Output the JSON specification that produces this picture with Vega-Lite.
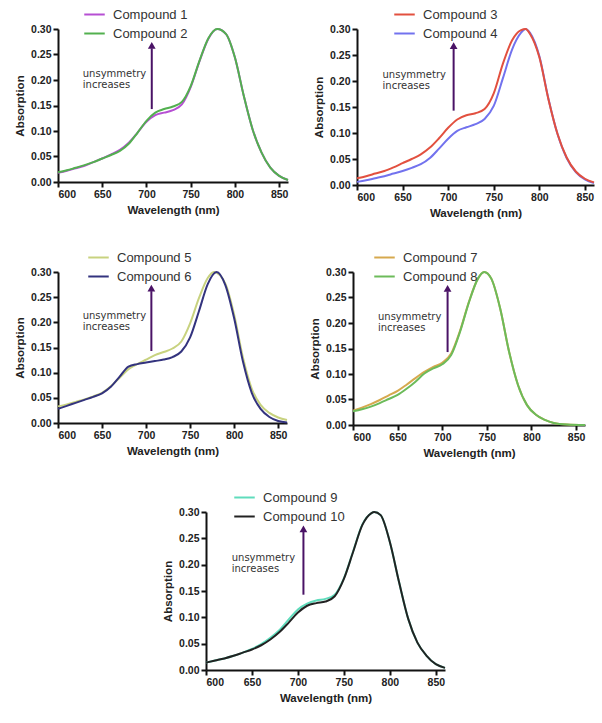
{
  "$schema": "https://vega.github.io/schema/vega-lite/v6.json",
  "background": "white",
  "padding": {"left": 14, "top": 3, "right": 3, "bottom": 3},
  "config": {
    "view": {"stroke": null},
    "font": "Liberation Sans",
    "axis": {"domainColor": "#111", "domainWidth": 2, "tickColor": "#111", "tickWidth": 2, "tickSize": 5, "labelFont": "Liberation Sans", "labelFontWeight": "bold", "labelFontSize": 10.5, "labelColor": "#222", "titleFont": "Liberation Sans", "titleFontWeight": "bold", "titleFontSize": 11.5, "titleColor": "#222", "grid": false, "labelPadding": 2, "labelOverlap": false},
    "axisX": {"titlePadding": 5},
    "axisY": {"titlePadding": 5},
    "legend": {"orient": "none", "symbolType": "stroke", "symbolStrokeWidth": 2, "symbolSize": 420, "labelFont": "Liberation Sans", "labelFontSize": 13, "labelColor": "#333", "rowPadding": -2, "padding": 0, "labelOffset": 7, "title": null},
    "line": {"strokeWidth": 2, "interpolate": "monotone"},
    "text": {"font": "DejaVu Sans", "fontSize": 10, "lineHeight": 11, "color": "#333", "align": "left", "baseline": "middle"}
  },
  "resolve": {"scale": {"color": "independent"}, "legend": {"color": "independent"}},
  "datasets": {
    "arrow": [{"n": 706, "a": 0.143, "a2": 0.262}],
    "head": [{"n": 706, "a": 0.268}],
    "note": [{"n": 628, "a": 0.212, "t": ["unsymmetry", "increases"]}],
    "none": [],
    "p1": [
      {"n":600,"a":0.018,"c":"Compound 1"},{"n":610,"a":0.022,"c":"Compound 1"},{"n":620,"a":0.027,"c":"Compound 1"},{"n":630,"a":0.032,"c":"Compound 1"},{"n":640,"a":0.039,"c":"Compound 1"},{"n":650,"a":0.046,"c":"Compound 1"},{"n":660,"a":0.054,"c":"Compound 1"},{"n":670,"a":0.063,"c":"Compound 1"},{"n":680,"a":0.077,"c":"Compound 1"},{"n":690,"a":0.097,"c":"Compound 1"},{"n":700,"a":0.118,"c":"Compound 1"},{"n":710,"a":0.131,"c":"Compound 1"},{"n":720,"a":0.136,"c":"Compound 1"},{"n":730,"a":0.141,"c":"Compound 1"},{"n":740,"a":0.152,"c":"Compound 1"},{"n":750,"a":0.186,"c":"Compound 1"},{"n":760,"a":0.237,"c":"Compound 1"},{"n":770,"a":0.281,"c":"Compound 1"},{"n":780,"a":0.300,"c":"Compound 1"},{"n":790,"a":0.290,"c":"Compound 1"},{"n":800,"a":0.244,"c":"Compound 1"},{"n":810,"a":0.169,"c":"Compound 1"},{"n":820,"a":0.103,"c":"Compound 1"},{"n":830,"a":0.058,"c":"Compound 1"},{"n":840,"a":0.028,"c":"Compound 1"},{"n":850,"a":0.012,"c":"Compound 1"},{"n":860,"a":0.004,"c":"Compound 1"},
      {"n":600,"a":0.019,"c":"Compound 2"},{"n":610,"a":0.023,"c":"Compound 2"},{"n":620,"a":0.028,"c":"Compound 2"},{"n":630,"a":0.033,"c":"Compound 2"},{"n":640,"a":0.039,"c":"Compound 2"},{"n":650,"a":0.046,"c":"Compound 2"},{"n":660,"a":0.053,"c":"Compound 2"},{"n":670,"a":0.061,"c":"Compound 2"},{"n":680,"a":0.075,"c":"Compound 2"},{"n":690,"a":0.097,"c":"Compound 2"},{"n":700,"a":0.120,"c":"Compound 2"},{"n":710,"a":0.136,"c":"Compound 2"},{"n":720,"a":0.143,"c":"Compound 2"},{"n":730,"a":0.148,"c":"Compound 2"},{"n":740,"a":0.157,"c":"Compound 2"},{"n":750,"a":0.188,"c":"Compound 2"},{"n":760,"a":0.238,"c":"Compound 2"},{"n":770,"a":0.282,"c":"Compound 2"},{"n":780,"a":0.300,"c":"Compound 2"},{"n":790,"a":0.290,"c":"Compound 2"},{"n":800,"a":0.244,"c":"Compound 2"},{"n":810,"a":0.169,"c":"Compound 2"},{"n":820,"a":0.103,"c":"Compound 2"},{"n":830,"a":0.058,"c":"Compound 2"},{"n":840,"a":0.028,"c":"Compound 2"},{"n":850,"a":0.012,"c":"Compound 2"},{"n":860,"a":0.004,"c":"Compound 2"}
    ],
    "p2": [
      {"n":600,"a":0.006,"c":"Compound 4"},{"n":610,"a":0.009,"c":"Compound 4"},{"n":620,"a":0.013,"c":"Compound 4"},{"n":630,"a":0.017,"c":"Compound 4"},{"n":640,"a":0.022,"c":"Compound 4"},{"n":650,"a":0.027,"c":"Compound 4"},{"n":660,"a":0.033,"c":"Compound 4"},{"n":670,"a":0.040,"c":"Compound 4"},{"n":680,"a":0.052,"c":"Compound 4"},{"n":690,"a":0.070,"c":"Compound 4"},{"n":700,"a":0.089,"c":"Compound 4"},{"n":710,"a":0.104,"c":"Compound 4"},{"n":720,"a":0.111,"c":"Compound 4"},{"n":730,"a":0.117,"c":"Compound 4"},{"n":740,"a":0.127,"c":"Compound 4"},{"n":750,"a":0.152,"c":"Compound 4"},{"n":760,"a":0.205,"c":"Compound 4"},{"n":770,"a":0.260,"c":"Compound 4"},{"n":780,"a":0.293,"c":"Compound 4"},{"n":785,"a":0.300,"c":"Compound 4"},{"n":790,"a":0.292,"c":"Compound 4"},{"n":800,"a":0.248,"c":"Compound 4"},{"n":810,"a":0.166,"c":"Compound 4"},{"n":820,"a":0.098,"c":"Compound 4"},{"n":830,"a":0.052,"c":"Compound 4"},{"n":840,"a":0.025,"c":"Compound 4"},{"n":850,"a":0.011,"c":"Compound 4"},{"n":860,"a":0.004,"c":"Compound 4"},
      {"n":600,"a":0.013,"c":"Compound 3"},{"n":610,"a":0.017,"c":"Compound 3"},{"n":620,"a":0.022,"c":"Compound 3"},{"n":630,"a":0.027,"c":"Compound 3"},{"n":640,"a":0.034,"c":"Compound 3"},{"n":650,"a":0.042,"c":"Compound 3"},{"n":660,"a":0.050,"c":"Compound 3"},{"n":670,"a":0.059,"c":"Compound 3"},{"n":680,"a":0.072,"c":"Compound 3"},{"n":690,"a":0.090,"c":"Compound 3"},{"n":700,"a":0.110,"c":"Compound 3"},{"n":710,"a":0.126,"c":"Compound 3"},{"n":720,"a":0.134,"c":"Compound 3"},{"n":730,"a":0.138,"c":"Compound 3"},{"n":740,"a":0.146,"c":"Compound 3"},{"n":750,"a":0.176,"c":"Compound 3"},{"n":760,"a":0.233,"c":"Compound 3"},{"n":770,"a":0.278,"c":"Compound 3"},{"n":780,"a":0.298,"c":"Compound 3"},{"n":785,"a":0.300,"c":"Compound 3"},{"n":790,"a":0.290,"c":"Compound 3"},{"n":800,"a":0.246,"c":"Compound 3"},{"n":810,"a":0.165,"c":"Compound 3"},{"n":820,"a":0.098,"c":"Compound 3"},{"n":830,"a":0.053,"c":"Compound 3"},{"n":840,"a":0.026,"c":"Compound 3"},{"n":850,"a":0.012,"c":"Compound 3"},{"n":860,"a":0.005,"c":"Compound 3"}
    ],
    "p3": [
      {"n":600,"a":0.033,"c":"Compound 5"},{"n":610,"a":0.037,"c":"Compound 5"},{"n":620,"a":0.042,"c":"Compound 5"},{"n":630,"a":0.047,"c":"Compound 5"},{"n":640,"a":0.053,"c":"Compound 5"},{"n":650,"a":0.060,"c":"Compound 5"},{"n":660,"a":0.073,"c":"Compound 5"},{"n":670,"a":0.090,"c":"Compound 5"},{"n":680,"a":0.107,"c":"Compound 5"},{"n":690,"a":0.117,"c":"Compound 5"},{"n":700,"a":0.126,"c":"Compound 5"},{"n":710,"a":0.135,"c":"Compound 5"},{"n":720,"a":0.141,"c":"Compound 5"},{"n":730,"a":0.148,"c":"Compound 5"},{"n":740,"a":0.162,"c":"Compound 5"},{"n":750,"a":0.198,"c":"Compound 5"},{"n":760,"a":0.248,"c":"Compound 5"},{"n":770,"a":0.288,"c":"Compound 5"},{"n":777,"a":0.300,"c":"Compound 5"},{"n":790,"a":0.277,"c":"Compound 5"},{"n":800,"a":0.215,"c":"Compound 5"},{"n":810,"a":0.130,"c":"Compound 5"},{"n":820,"a":0.068,"c":"Compound 5"},{"n":830,"a":0.036,"c":"Compound 5"},{"n":840,"a":0.020,"c":"Compound 5"},{"n":850,"a":0.011,"c":"Compound 5"},{"n":860,"a":0.006,"c":"Compound 5"},
      {"n":600,"a":0.028,"c":"Compound 6"},{"n":610,"a":0.034,"c":"Compound 6"},{"n":620,"a":0.040,"c":"Compound 6"},{"n":630,"a":0.046,"c":"Compound 6"},{"n":640,"a":0.052,"c":"Compound 6"},{"n":650,"a":0.059,"c":"Compound 6"},{"n":660,"a":0.072,"c":"Compound 6"},{"n":670,"a":0.092,"c":"Compound 6"},{"n":680,"a":0.112,"c":"Compound 6"},{"n":690,"a":0.117,"c":"Compound 6"},{"n":700,"a":0.120,"c":"Compound 6"},{"n":710,"a":0.123,"c":"Compound 6"},{"n":720,"a":0.126,"c":"Compound 6"},{"n":730,"a":0.131,"c":"Compound 6"},{"n":740,"a":0.142,"c":"Compound 6"},{"n":750,"a":0.170,"c":"Compound 6"},{"n":760,"a":0.222,"c":"Compound 6"},{"n":770,"a":0.276,"c":"Compound 6"},{"n":780,"a":0.300,"c":"Compound 6"},{"n":790,"a":0.274,"c":"Compound 6"},{"n":800,"a":0.208,"c":"Compound 6"},{"n":810,"a":0.122,"c":"Compound 6"},{"n":820,"a":0.060,"c":"Compound 6"},{"n":830,"a":0.028,"c":"Compound 6"},{"n":840,"a":0.012,"c":"Compound 6"},{"n":850,"a":0.004,"c":"Compound 6"},{"n":860,"a":0.001,"c":"Compound 6"}
    ],
    "p4": [
      {"n":600,"a":0.028,"c":"Compound 7"},{"n":610,"a":0.034,"c":"Compound 7"},{"n":620,"a":0.041,"c":"Compound 7"},{"n":630,"a":0.049,"c":"Compound 7"},{"n":640,"a":0.058,"c":"Compound 7"},{"n":650,"a":0.067,"c":"Compound 7"},{"n":660,"a":0.079,"c":"Compound 7"},{"n":670,"a":0.092,"c":"Compound 7"},{"n":680,"a":0.104,"c":"Compound 7"},{"n":690,"a":0.114,"c":"Compound 7"},{"n":700,"a":0.122,"c":"Compound 7"},{"n":710,"a":0.140,"c":"Compound 7"},{"n":720,"a":0.185,"c":"Compound 7"},{"n":730,"a":0.242,"c":"Compound 7"},{"n":740,"a":0.287,"c":"Compound 7"},{"n":747,"a":0.300,"c":"Compound 7"},{"n":755,"a":0.287,"c":"Compound 7"},{"n":765,"a":0.228,"c":"Compound 7"},{"n":775,"a":0.143,"c":"Compound 7"},{"n":785,"a":0.078,"c":"Compound 7"},{"n":795,"a":0.039,"c":"Compound 7"},{"n":805,"a":0.020,"c":"Compound 7"},{"n":815,"a":0.010,"c":"Compound 7"},{"n":825,"a":0.004,"c":"Compound 7"},{"n":840,"a":0.001,"c":"Compound 7"},{"n":860,"a":0.000,"c":"Compound 7"},
      {"n":600,"a":0.027,"c":"Compound 8"},{"n":610,"a":0.031,"c":"Compound 8"},{"n":620,"a":0.036,"c":"Compound 8"},{"n":630,"a":0.043,"c":"Compound 8"},{"n":640,"a":0.051,"c":"Compound 8"},{"n":650,"a":0.059,"c":"Compound 8"},{"n":660,"a":0.071,"c":"Compound 8"},{"n":670,"a":0.085,"c":"Compound 8"},{"n":680,"a":0.101,"c":"Compound 8"},{"n":690,"a":0.111,"c":"Compound 8"},{"n":700,"a":0.119,"c":"Compound 8"},{"n":710,"a":0.137,"c":"Compound 8"},{"n":720,"a":0.183,"c":"Compound 8"},{"n":730,"a":0.241,"c":"Compound 8"},{"n":740,"a":0.287,"c":"Compound 8"},{"n":747,"a":0.300,"c":"Compound 8"},{"n":755,"a":0.287,"c":"Compound 8"},{"n":765,"a":0.228,"c":"Compound 8"},{"n":775,"a":0.143,"c":"Compound 8"},{"n":785,"a":0.078,"c":"Compound 8"},{"n":795,"a":0.039,"c":"Compound 8"},{"n":805,"a":0.020,"c":"Compound 8"},{"n":815,"a":0.010,"c":"Compound 8"},{"n":825,"a":0.004,"c":"Compound 8"},{"n":840,"a":0.001,"c":"Compound 8"},{"n":860,"a":0.000,"c":"Compound 8"}
    ],
    "p5": [
      {"n":600,"a":0.014,"c":"Compound 9"},{"n":610,"a":0.018,"c":"Compound 9"},{"n":620,"a":0.022,"c":"Compound 9"},{"n":630,"a":0.027,"c":"Compound 9"},{"n":640,"a":0.033,"c":"Compound 9"},{"n":650,"a":0.040,"c":"Compound 9"},{"n":660,"a":0.049,"c":"Compound 9"},{"n":670,"a":0.061,"c":"Compound 9"},{"n":680,"a":0.076,"c":"Compound 9"},{"n":690,"a":0.096,"c":"Compound 9"},{"n":700,"a":0.115,"c":"Compound 9"},{"n":710,"a":0.126,"c":"Compound 9"},{"n":720,"a":0.132,"c":"Compound 9"},{"n":730,"a":0.135,"c":"Compound 9"},{"n":740,"a":0.143,"c":"Compound 9"},{"n":750,"a":0.174,"c":"Compound 9"},{"n":760,"a":0.225,"c":"Compound 9"},{"n":770,"a":0.276,"c":"Compound 9"},{"n":780,"a":0.298,"c":"Compound 9"},{"n":783,"a":0.300,"c":"Compound 9"},{"n":790,"a":0.294,"c":"Compound 9"},{"n":800,"a":0.243,"c":"Compound 9"},{"n":810,"a":0.167,"c":"Compound 9"},{"n":820,"a":0.097,"c":"Compound 9"},{"n":830,"a":0.052,"c":"Compound 9"},{"n":840,"a":0.027,"c":"Compound 9"},{"n":850,"a":0.011,"c":"Compound 9"},{"n":860,"a":0.004,"c":"Compound 9"},
      {"n":600,"a":0.014,"c":"Compound 10"},{"n":610,"a":0.018,"c":"Compound 10"},{"n":620,"a":0.022,"c":"Compound 10"},{"n":630,"a":0.027,"c":"Compound 10"},{"n":640,"a":0.033,"c":"Compound 10"},{"n":650,"a":0.039,"c":"Compound 10"},{"n":660,"a":0.047,"c":"Compound 10"},{"n":670,"a":0.058,"c":"Compound 10"},{"n":680,"a":0.072,"c":"Compound 10"},{"n":690,"a":0.090,"c":"Compound 10"},{"n":700,"a":0.109,"c":"Compound 10"},{"n":710,"a":0.122,"c":"Compound 10"},{"n":720,"a":0.127,"c":"Compound 10"},{"n":730,"a":0.130,"c":"Compound 10"},{"n":740,"a":0.140,"c":"Compound 10"},{"n":750,"a":0.173,"c":"Compound 10"},{"n":760,"a":0.224,"c":"Compound 10"},{"n":770,"a":0.275,"c":"Compound 10"},{"n":780,"a":0.298,"c":"Compound 10"},{"n":783,"a":0.300,"c":"Compound 10"},{"n":790,"a":0.294,"c":"Compound 10"},{"n":800,"a":0.243,"c":"Compound 10"},{"n":810,"a":0.167,"c":"Compound 10"},{"n":820,"a":0.097,"c":"Compound 10"},{"n":830,"a":0.052,"c":"Compound 10"},{"n":840,"a":0.027,"c":"Compound 10"},{"n":850,"a":0.011,"c":"Compound 10"},{"n":860,"a":0.004,"c":"Compound 10"}
    ]
  },
  "vconcat": [
    {
      "resolve": {"scale": {"color": "independent"}, "legend": {"color": "independent"}},
      "hconcat": [
        {
          "width": 230, "height": 153,
          "encoding": {
            "x": {"field": "n", "type": "quantitative", "scale": {"domain": [600, 860], "nice": false, "zero": false}, "axis": {"values": [600, 650, 700, 750, 800, 850], "title": "Wavelength (nm)"}},
            "y": {"field": "a", "type": "quantitative", "scale": {"domain": [0, 0.3], "nice": false}, "axis": {"values": [0, 0.05, 0.1, 0.15, 0.2, 0.25, 0.3], "format": ".2f", "title": "Absorption"}}
          },
          "layer": [
            {"data": {"name": "p1"}, "mark": "line",
             "encoding": {"color": {"field": "c", "type": "nominal", "scale": {"domain": ["Compound 1", "Compound 2"], "range": ["#b64fd3", "#52b04f"]}, "legend": {"legendX": 25, "legendY": -26}}}},
            {"data": {"name": "arrow"}, "mark": {"type": "rule", "color": "#4a1366", "strokeWidth": 2}, "encoding": {"y2": {"field": "a2"}}},
            {"data": {"name": "head"}, "mark": {"type": "point", "shape": "triangle-up", "filled": true, "color": "#4a1366", "size": 60, "opacity": 1}, "encoding": {}},
            {"data": {"name": "note"}, "mark": "text", "encoding": {"text": {"field": "t"}}}
          ]
        },
        {
          "width": 237, "height": 156,
          "encoding": {
            "x": {"field": "n", "type": "quantitative", "scale": {"domain": [600, 860], "nice": false, "zero": false}, "axis": {"values": [600, 650, 700, 750, 800, 850], "title": "Wavelength (nm)"}},
            "y": {"field": "a", "type": "quantitative", "scale": {"domain": [0, 0.3], "nice": false}, "axis": {"values": [0, 0.05, 0.1, 0.15, 0.2, 0.25, 0.3], "format": ".2f", "title": "Absorption"}}
          },
          "layer": [
            {"data": {"name": "p2"}, "mark": "line",
             "encoding": {"color": {"field": "c", "type": "nominal", "scale": {"domain": ["Compound 3", "Compound 4"], "range": ["#e2503f", "#7272ee"]}, "legend": {"legendX": 36, "legendY": -26}}}},
            {"data": {"name": "arrow"}, "mark": {"type": "rule", "color": "#4a1366", "strokeWidth": 2}, "encoding": {"y2": {"field": "a2"}}},
            {"data": {"name": "head"}, "mark": {"type": "point", "shape": "triangle-up", "filled": true, "color": "#4a1366", "size": 60, "opacity": 1}, "encoding": {}},
            {"data": {"name": "note"}, "mark": "text", "encoding": {"text": {"field": "t"}}}
          ]
        }
      ],
      "spacing": 21
    },
    {
      "resolve": {"scale": {"color": "independent"}, "legend": {"color": "independent"}},
      "hconcat": [
        {
          "width": 229, "height": 151,
          "encoding": {
            "x": {"field": "n", "type": "quantitative", "scale": {"domain": [600, 860], "nice": false, "zero": false}, "axis": {"values": [600, 650, 700, 750, 800, 850], "title": "Wavelength (nm)"}},
            "y": {"field": "a", "type": "quantitative", "scale": {"domain": [0, 0.3], "nice": false}, "axis": {"values": [0, 0.05, 0.1, 0.15, 0.2, 0.25, 0.3], "format": ".2f", "title": "Absorption"}}
          },
          "layer": [
            {"data": {"name": "p3"}, "mark": "line",
             "encoding": {"color": {"field": "c", "type": "nominal", "scale": {"domain": ["Compound 5", "Compound 6"], "range": ["#c8d27f", "#33337e"]}, "legend": {"legendX": 29, "legendY": -26}}}},
            {"data": {"name": "arrow"}, "mark": {"type": "rule", "color": "#4a1366", "strokeWidth": 2}, "encoding": {"y2": {"field": "a2"}}},
            {"data": {"name": "head"}, "mark": {"type": "point", "shape": "triangle-up", "filled": true, "color": "#4a1366", "size": 60, "opacity": 1}, "encoding": {}},
            {"data": {"name": "note"}, "mark": "text", "encoding": {"text": {"field": "t"}}}
          ]
        },
        {
          "width": 232, "height": 153,
          "encoding": {
            "x": {"field": "n", "type": "quantitative", "scale": {"domain": [600, 860], "nice": false, "zero": false}, "axis": {"values": [600, 650, 700, 750, 800, 850], "title": "Wavelength (nm)"}},
            "y": {"field": "a", "type": "quantitative", "scale": {"domain": [0, 0.3], "nice": false}, "axis": {"values": [0, 0.05, 0.1, 0.15, 0.2, 0.25, 0.3], "format": ".2f", "title": "Absorption"}}
          },
          "layer": [
            {"data": {"name": "p4"}, "mark": "line",
             "encoding": {"color": {"field": "c", "type": "nominal", "scale": {"domain": ["Compound 7", "Compound 8"], "range": ["#d6a94e", "#6cbb5a"]}, "legend": {"legendX": 20, "legendY": -26}}}},
            {"data": {"name": "arrow"}, "mark": {"type": "rule", "color": "#4a1366", "strokeWidth": 2}, "encoding": {"y2": {"field": "a2"}}},
            {"data": {"name": "head"}, "mark": {"type": "point", "shape": "triangle-up", "filled": true, "color": "#4a1366", "size": 60, "opacity": 1}, "encoding": {}},
            {"data": {"name": "note"}, "mark": "text", "encoding": {"text": {"field": "t"}}}
          ]
        }
      ],
      "spacing": 18
    },
    {
      "resolve": {"scale": {"color": "independent"}, "legend": {"color": "independent"}},
      "hconcat": [
        {"width": 94, "height": 10, "data": {"name": "none"}, "mark": "text", "encoding": {}},
        {
          "width": 239, "height": 158,
          "encoding": {
            "x": {"field": "n", "type": "quantitative", "scale": {"domain": [600, 860], "nice": false, "zero": false}, "axis": {"values": [600, 650, 700, 750, 800, 850], "title": "Wavelength (nm)"}},
            "y": {"field": "a", "type": "quantitative", "scale": {"domain": [0, 0.3], "nice": false}, "axis": {"values": [0, 0.05, 0.1, 0.15, 0.2, 0.25, 0.3], "format": ".2f", "title": "Absorption"}}
          },
          "layer": [
            {"data": {"name": "p5"}, "mark": "line",
             "encoding": {"color": {"field": "c", "type": "nominal", "scale": {"domain": ["Compound 9", "Compound 10"], "range": ["#5fdcbc", "#222222"]}, "legend": {"legendX": 27, "legendY": -26}}}},
            {"data": {"name": "arrow"}, "mark": {"type": "rule", "color": "#4a1366", "strokeWidth": 2}, "encoding": {"y2": {"field": "a2"}}},
            {"data": {"name": "head"}, "mark": {"type": "point", "shape": "triangle-up", "filled": true, "color": "#4a1366", "size": 60, "opacity": 1}, "encoding": {}},
            {"data": {"name": "note"}, "mark": "text", "encoding": {"text": {"field": "t"}}}
          ]
        }
      ],
      "spacing": 10
    }
  ],
  "spacing": 27,
  "center": false
}
